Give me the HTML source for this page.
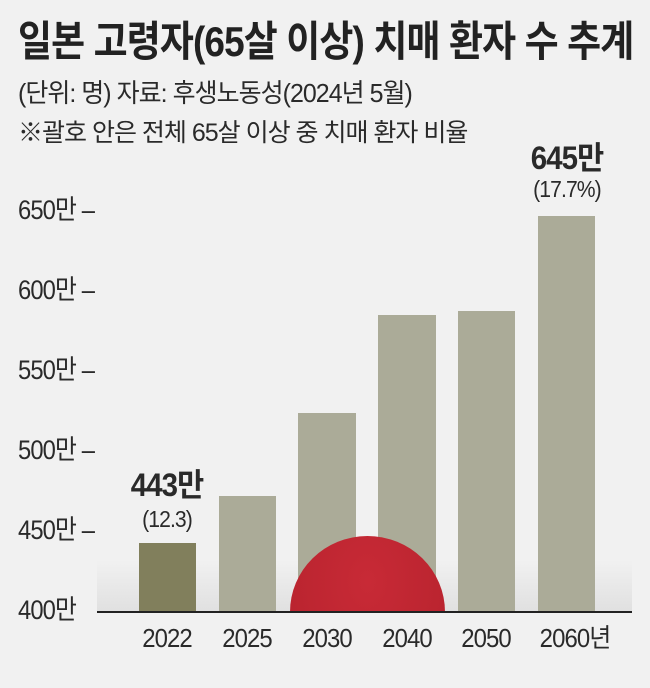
<!DOCTYPE html><html><head><meta charset="utf-8"><style>
body{margin:0;width:650px;height:675px;background:#f1f1f1;overflow:hidden;font-family:"Liberation Sans","Noto Sans CJK KR",sans-serif;color:#2a2a2a}
.a{position:absolute;white-space:nowrap;line-height:1}
.t{font-size:42px;font-weight:bold;left:18px;top:21px;letter-spacing:-1px;color:#222;transform:scaleX(.88);transform-origin:left}
.s{font-size:26px;left:18px;top:80px;letter-spacing:-1px;transform:scaleX(.96);transform-origin:left}
.n{font-size:25px;left:18px;top:121px;letter-spacing:-1px}
.y{font-size:27px;left:18px;letter-spacing:-1px;transform:scaleX(.88);transform-origin:left}
.x{font-size:26px;top:625px;letter-spacing:-1px;width:90px;text-align:center;transform:scaleX(.92)}
.b{position:absolute;background:#abab98}
.v{font-size:32px;font-weight:bold;text-align:center;width:120px;letter-spacing:-1px;transform:scaleX(.92)}
.p{font-size:23px;text-align:center;width:120px;letter-spacing:-1px;transform:scaleX(.92)}
</style></head><body>
<div class="a t">일본 고령자(65살 이상) 치매 환자 수 추계</div>
<div class="a s">(단위: 명) 자료: 후생노동성(2024년 5월)</div>
<div class="a n">※괄호 안은 전체 65살 이상 중 치매 환자 비율</div>
<div class="a y" style="top:197px">650만 –</div>
<div class="a y" style="top:277px">600만 –</div>
<div class="a y" style="top:357px">550만 –</div>
<div class="a y" style="top:437px">500만 –</div>
<div class="a y" style="top:517px">450만 –</div>
<div class="a y" style="top:597px">400만</div>
<div class="a" style="left:97px;top:560px;width:535px;height:52px;background:linear-gradient(#f1f1f1,#e0e0e0)"></div>
<div class="b" style="left:139px;top:543px;width:57px;height:69px;background:#817f5c"></div>
<div class="b" style="left:219px;top:496px;width:57px;height:116px"></div>
<div class="b" style="left:298px;top:413px;width:58px;height:199px"></div>
<div class="b" style="left:378px;top:315px;width:58px;height:297px"></div>
<div class="b" style="left:458px;top:311px;width:57px;height:301px"></div>
<div class="b" style="left:538px;top:216px;width:57px;height:396px"></div>
<div class="a" style="left:290px;top:536px;width:155px;height:152px;border-radius:50%;background:radial-gradient(ellipse at 50% 30%,#c82a36,#b5222d);clip-path:inset(0 0 76px 0)"></div>
<div class="a" style="left:97px;top:611px;width:535px;height:2px;background:#222"></div>
<div class="a v" style="left:107px;top:469px">443만</div>
<div class="a p" style="left:107px;top:508px">(12.3)</div>
<div class="a v" style="left:507px;top:142px">645만</div>
<div class="a p" style="left:507px;top:178px">(17.7%)</div>
<div class="a x" style="left:122px">2022</div>
<div class="a x" style="left:202px">2025</div>
<div class="a x" style="left:282px">2030</div>
<div class="a x" style="left:362px">2040</div>
<div class="a x" style="left:441px">2050</div>
<div class="a x" style="left:525px;width:100px">2060년</div>
</body></html>
